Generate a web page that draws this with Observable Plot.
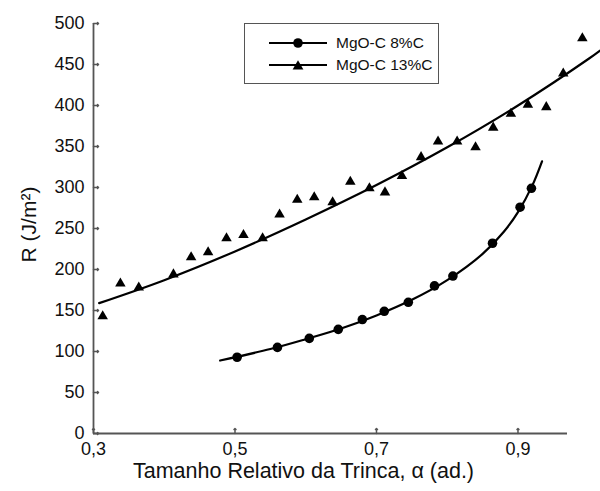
<!DOCTYPE html>
<html>
<head>
<meta charset="utf-8">
<script src="https://cdn.jsdelivr.net/npm/d3@7"></script>
<script src="https://cdn.jsdelivr.net/npm/@observablehq/plot@0.6"></script>
<style>
  html, body { margin: 0; padding: 0; background: #fff; }
  #wrap { position: relative; width: 600px; height: 491px; font-family: "Liberation Sans", Arial, sans-serif; }
  #legend { position: absolute; left: 244px; top: 23px; width: 193px; height: 59px; border: 1.6px solid #555; background: #fff; }
  #legend .row { position: absolute; left: 0; height: 20px; display: flex; align-items: center; }
  #legend .row span { font-size: 15.5px; color: #111; margin-left: 9px; }
</style>
</head>
<body>
<div id="wrap"></div>
<script>
// Series: MgO-C 8%C (circles)
const circX = [0.503, 0.560, 0.605, 0.646, 0.680, 0.711, 0.745, 0.782, 0.808, 0.864, 0.903, 0.919];
const circY = [93, 105, 116, 127, 139, 149, 160, 180, 192, 232, 276, 299];
// Series: MgO-C 13%C (triangles)
const triX = [0.313, 0.338, 0.364, 0.413, 0.438, 0.462, 0.488, 0.512, 0.539, 0.563, 0.588, 0.612, 0.638, 0.663, 0.690, 0.712, 0.736, 0.763, 0.787, 0.814, 0.840, 0.865, 0.890, 0.914, 0.940, 0.964, 0.991];
const triY = [143, 183, 178, 194, 215, 221, 238, 242, 238, 267, 285, 288, 282, 307, 299, 294, 314, 337, 356, 356, 349, 373, 390, 401, 398, 439, 482];
// Fitted curves
const fit8X = [0.479, 0.55, 0.6, 0.65, 0.7, 0.75, 0.8, 0.85, 0.88, 0.9, 0.92, 0.934];
const fit8Y = [89, 103, 115, 128, 144, 163, 187, 219, 246, 270, 302, 332];
const fit13X = [0.308, 0.4, 0.5, 0.6, 0.7, 0.8, 0.9, 1.0, 1.016];
const fit13Y = [159, 187, 222, 261, 303, 349, 400, 457, 467];
// Axes
const xTicks = [0.3, 0.5, 0.7, 0.9];
const yTicks = [0, 50, 100, 150, 200, 250, 300, 350, 400, 450, 500];
const xLabel = "Tamanho Relativo da Trinca, α (ad.)";
const yLabel = "R (J/m²)";
const seriesNames = ["MgO-C 8%C", "MgO-C 13%C"];

const circ = circX.map((x, i) => ({x, y: circY[i]}));
const tri = triX.map((x, i) => ({x, y: triY[i]}));
const fit8 = fit8X.map((x, i) => ({x, y: fit8Y[i]}));
const fit13 = fit13X.map((x, i) => ({x, y: fit13Y[i]}));

const axisColor = "#555";
const font = "Liberation Sans, Arial, sans-serif";
const fmt = d => d3.format(".1f")(d).replace(".", ",");

const chart = Plot.plot({
  width: 600,
  height: 491,
  marginLeft: 93,
  marginRight: 33,
  marginTop: 23,
  marginBottom: 58,
  style: {fontFamily: font, fontSize: "18px", color: "#111", background: "#fff"},
  x: {domain: [0.3, 0.97], ticks: xTicks, tickFormat: fmt, label: null},
  y: {domain: [0, 500], ticks: yTicks, label: null},
  marks: [
    Plot.axisX({ticks: xTicks, tickSize: 0, tickPadding: 9, tickFormat: fmt, label: null, fontSize: 18}),
    Plot.axisY({ticks: yTicks, tickSize: 0, tickPadding: 9, label: null, fontSize: 18}),
    Plot.vector(yTicks, {y: d => d, frameAnchor: "left", length: 5, rotate: 90, anchor: "start", stroke: axisColor, strokeWidth: 1.5}),
    Plot.vector(xTicks, {x: d => d, frameAnchor: "bottom", length: 5, rotate: 0, anchor: "start", stroke: axisColor, strokeWidth: 1.5}),
    Plot.ruleX([0.3], {stroke: axisColor, strokeWidth: 1.8}),
    Plot.ruleY([0], {stroke: axisColor, strokeWidth: 1.8}),
    Plot.line(fit13, {x: "x", y: "y", curve: "catmull-rom", stroke: "#000", strokeWidth: 2.2}),
    Plot.line(fit8, {x: "x", y: "y", curve: "catmull-rom", stroke: "#000", strokeWidth: 2.2}),
    Plot.dot(tri, {x: "x", y: "y", symbol: "triangle", r: 3.9, fill: "#000"}),
    Plot.dot(circ, {x: "x", y: "y", symbol: "circle", r: 4.8, fill: "#000"}),
    Plot.text([xLabel], {frameAnchor: "bottom", dx: -27, dy: 44, fontSize: 21.5, fill: "#111", textAnchor: "middle"}),
    Plot.text([yLabel], {frameAnchor: "left", dx: -64, dy: -4, rotate: -90, fontSize: 21, fill: "#111", textAnchor: "middle"})
  ]
});

const wrap = document.getElementById("wrap");
wrap.appendChild(chart);

// Legend
const legend = document.createElement("div");
legend.id = "legend";
const symbols = [
  '<circle cx="29" cy="10" r="4.8" fill="#000"/>',
  '<path d="M29,5.2 L34.4,14.4 L23.6,14.4 Z" fill="#000"/>'
];
seriesNames.forEach((name, i) => {
  const row = document.createElement("div");
  row.className = "row";
  row.style.top = (i === 0 ? 9 : 31) + "px";
  row.style.left = "24px";
  row.innerHTML = '<svg width="58" height="20"><line x1="0" y1="10" x2="58" y2="10" stroke="#000" stroke-width="1.8"/>' + symbols[i] + '</svg><span>' + name + '</span>';
  legend.appendChild(row);
});
wrap.appendChild(legend);
</script>
</body>
</html>
